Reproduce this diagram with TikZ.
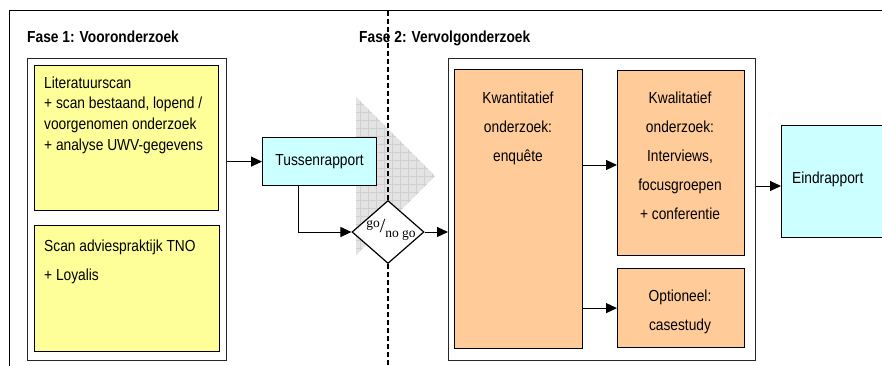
\documentclass[tikz,border=0pt]{standalone}
\usepackage{fontspec}
\setmainfont[FakeStretch=0.86]{Liberation Sans}
\newfontfamily\serifgo{Liberation Serif}
\usetikzlibrary{arrows.meta,shapes.geometric,calc}
\definecolor{ylw}{HTML}{FFFF99}
\definecolor{org}{HTML}{FFCC99}
\definecolor{cyn}{HTML}{CCFFFF}
\definecolor{tri}{HTML}{E3E3E3}
\definecolor{trigrid}{HTML}{D0D0D0}
\begin{document}
\begin{tikzpicture}[x=1pt,y=-1pt,
  font=\fontsize{16}{20.6}\selectfont,
  grp/.style={draw=black!85, line width=0.9pt, anchor=north west, inner sep=0},
  box/.style={draw=black, line width=1.2pt, anchor=north west, inner sep=0},
  arr/.style={line width=1pt, -{Triangle[length=11pt,width=10pt]}},
  dsh/.style={line width=1.2pt, dash pattern=on 5pt off 3pt},
  txt/.style={inner sep=0, align=left, anchor=north west},
  ctxt/.style={inner sep=0, align=center, anchor=north, font=\fontsize{16}{29}\selectfont},
  lbl/.style={inner sep=0, anchor=base west, font=\bfseries\fontsize{16}{17}\selectfont}]
\clip (0,0) rectangle (882,366);
\fill[white] (0,0) rectangle (882,366);
% outer frame
\draw[line width=1pt] (9,11) rectangle (900,390);
% grey chevron with grid
\begin{scope}
  \clip (356,97) -- (435,176) -- (356,255) -- cycle;
  \fill[tri] (356,97) rectangle (436,256);
  \draw[trigrid, line width=0.4pt, step=8pt] (356,97) grid (436,256);
\end{scope}
% labels
\node[lbl] (f1) at (27,43) {Fase 1: Vooronderzoek};
\node[lbl] (f2) at (359,43) {Fase 2: Vervolgonderzoek};
% phase 1
\node[grp, minimum width=199pt, minimum height=302pt] (g1) at (27,58) {};
\node[box, fill=ylw, minimum width=184pt, minimum height=145pt] (lit) at (34,65) {};
\node[box, fill=ylw, minimum width=185pt, minimum height=126pt] (scan) at (34,225) {};
\node[txt] (littxt) at (44,76.5) {Literatuurscan\\+ scan bestaand, lopend /\\voorgenomen onderzoek\\+ analyse UWV-gegevens};
\node[txt, font=\fontsize{16}{29}\selectfont] (scantxt) at (44,240) {Scan adviespraktijk TNO\\+ Loyalis};
% tussenrapport and decision
\node[box, fill=cyn, minimum width=114pt, minimum height=48pt] (tus) at (262,137) {Tussenrapport};
\node[draw, line width=1.2pt, diamond, fill=white, minimum width=72pt, minimum height=63pt, inner sep=0] (dia) at (388,232) {};
\node[inner sep=0] (gotxt) at (391,230) {\serifgo\fontsize{13.5}{13.5}\selectfont\raisebox{5pt}{go}\fontsize{20}{20}\selectfont/\fontsize{13.5}{13.5}\selectfont\raisebox{-5pt}{no go}};
% phase 2
\node[grp, minimum width=307pt, minimum height=302pt] (g2) at (448,58) {};
\node[box, fill=org, minimum width=128pt, minimum height=279pt] (kwan) at (454,69) {};
\node[box, fill=org, minimum width=127pt, minimum height=185pt] (kwal) at (617,70) {};
\node[box, fill=org, minimum width=127pt, minimum height=79pt] (opt) at (617,268) {};
\node[ctxt] (kwantxt) at (518,91.5) {Kwantitatief\\onderzoek:\\enquête};
\node[ctxt] (kwaltxt) at (680,92) {Kwalitatief\\onderzoek:\\Interviews,\\focusgroepen\\+ conferentie};
\node[ctxt] (opttxt) at (680,290) {Optioneel:\\casestudy};
\node[box, fill=cyn, minimum width=130pt, minimum height=112pt] (eind) at (781,125) {};
\node[inner sep=0, anchor=base west] (eindtxt) at (792,183) {Eindrapport};
% dashed phase separator
\coordinate (dtop) at (388,11);
\coordinate (dbot) at (388,366);
\draw[dsh] (dia.north) -- (dtop);
\draw[dsh] (dia.south) -- (dbot);
% connectors
\draw[arr] (g1.east |- tus.west) -- (tus.west);
\draw[arr] ([xshift=-21pt]tus.south) |- (dia.west);
\draw[arr] (dia.east) -- (dia.east -| g2.west);
\draw[arr] (kwan.east |- 0,165) -- (kwal.west |- 0,165);
\draw[arr] (kwan.east |- opt.west) -- (opt.west);
\draw[arr] (g2.east |- 0,186) -- (eind.west |- 0,186);
\end{tikzpicture}
\end{document}
